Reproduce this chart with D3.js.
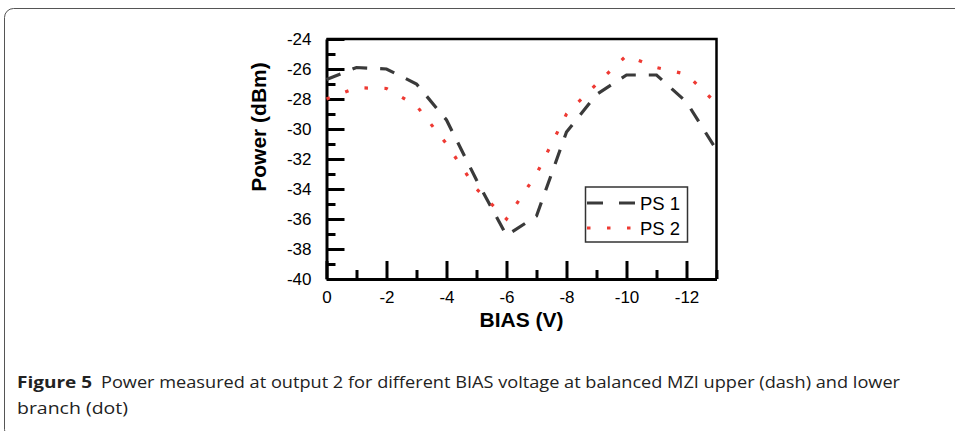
<!DOCTYPE html>
<html>
<head>
<meta charset="utf-8">
<script src="https://cdn.jsdelivr.net/npm/d3@7"></script>
<style>
  body { margin: 0; background: #fff; }
  svg { display: block; }
</style>
</head>
<body>
<script>
'use strict';

// bias voltage (V) and measured power (dBm)
const bias = [0, -1, -2, -3, -4, -5, -6, -7, -8, -9, -10, -11, -12, -13];
const ps1 = [-26.7, -25.9, -26.0, -27.0, -29.4, -33.4, -37.1, -35.8, -30.2, -27.7, -26.4, -26.4, -28.2, -31.4];
const ps2 = [-28.0, -27.25, -27.3, -28.45, -31.0, -34.0, -36.0, -33.0, -29.0, -27.0, -25.1, -25.9, -26.35, -28.3];
const seriesNames = ["PS 1", "PS 2"];
const xMajor = [0, -2, -4, -6, -8, -10, -12];
const xMinor = [-1, -3, -5, -7, -9, -11, -13];
const yMajor = [-40, -38, -36, -34, -32, -30, -28, -26, -24];
const yMinor = [-39, -37, -35, -33, -31, -29, -27, -25];
const captionBold = "Figure 5";
const captionText = "Power measured at output 2 for different BIAS voltage at balanced MZI upper (dash) and lower";
const captionText2 = "branch (dot)";

const W = 955, H = 431;
const svg = d3.select('body').append('svg')
  .attr('width', W)
  .attr('height', H);

// card frame with rounded corners
svg.append('rect')
  .attr('x', 4.5).attr('y', 8.5)
  .attr('width', 1000).attr('height', 430)
  .attr('rx', 9).attr('ry', 9)
  .attr('fill', 'none')
  .attr('stroke', '#555')
  .attr('stroke-width', 1);

const xScale = d3.scaleLinear().domain([0, -13]).range([326.5, 716.5]);
const yScale = d3.scaleLinear().domain([-40, -24]).range([279, 39]);

const font = "'Liberation Sans', Arial, sans-serif";

// top and right frame lines
svg.append('path')
  .attr('d', `M${xScale(0)},${yScale(-24)}H${xScale(-13)}V${yScale(-40)}`)
  .attr('fill', 'none')
  .attr('stroke', '#000')
  .attr('stroke-width', 2.5);

// minor ticks
svg.append('g')
  .attr('transform', `translate(0, ${yScale(-40)})`)
  .call(d3.axisBottom(xScale).tickValues(xMinor).tickSize(-9).tickFormat(''))
  .call(g => g.select('.domain').remove());
svg.append('g')
  .attr('transform', `translate(${xScale(0)}, 0)`)
  .call(d3.axisLeft(yScale).tickValues(yMinor).tickSize(-9).tickFormat(''))
  .call(g => g.select('.domain').remove());

// major ticks with labels
const fmt = d => d === 0 ? '0' : '-' + Math.abs(d);
svg.append('g')
  .attr('class', 'xaxis')
  .attr('transform', `translate(0, ${yScale(-40)})`)
  .call(d3.axisBottom(xScale).tickValues(xMajor).tickSize(-18).tickSizeOuter(0).tickPadding(12).tickFormat(fmt));
svg.append('g')
  .attr('class', 'yaxis')
  .attr('transform', `translate(${xScale(0)}, 0)`)
  .call(d3.axisLeft(yScale).tickValues(yMajor).tickSize(-18).tickSizeOuter(0).tickPadding(15).tickFormat(fmt));

svg.selectAll('.tick line').attr('stroke', '#000').attr('stroke-width', 3);
svg.selectAll('.domain').attr('stroke', '#000').attr('stroke-width', 3);
svg.selectAll('.tick text')
  .attr('font-family', font)
  .attr('font-size', 17)
  .attr('fill', '#000');

// axis titles
svg.append('text')
  .attr('x', (xScale(0) + xScale(-13)) / 2)
  .attr('y', 327)
  .attr('text-anchor', 'middle')
  .attr('font-family', font)
  .attr('font-weight', 'bold')
  .attr('font-size', 21)
  .text('BIAS (V)');
svg.append('text')
  .attr('transform', 'translate(266, 127) rotate(-90)')
  .attr('text-anchor', 'middle')
  .attr('font-family', font)
  .attr('font-weight', 'bold')
  .attr('font-size', 21)
  .text('Power (dBm)');

// curves
const rows1 = bias.map((b, i) => ({ v: b, p: ps1[i] }));
const rows2 = bias.map((b, i) => ({ v: b, p: ps2[i] }));
const line = d3.line().x(d => xScale(d.v)).y(d => yScale(d.p));

const styles = [
  { color: '#3a3a3a', dash: '15,13', cap: 'butt' },
  { color: '#ee3a33', dash: '3.5,16.5', cap: 'butt' }
];

svg.append('path')
  .datum(rows1)
  .attr('d', line)
  .attr('fill', 'none')
  .attr('stroke', styles[0].color)
  .attr('stroke-width', 3.2)
  .attr('stroke-dasharray', styles[0].dash);
svg.append('path')
  .datum(rows2)
  .attr('d', line)
  .attr('fill', 'none')
  .attr('stroke', styles[1].color)
  .attr('stroke-width', 3.2)
  .attr('stroke-dasharray', styles[1].dash);

// legend
const legend = svg.append('g');
legend.append('rect')
  .attr('x', 585.5).attr('y', 187)
  .attr('width', 102).attr('height', 55)
  .attr('fill', '#fff')
  .attr('stroke', '#333')
  .attr('stroke-width', 1.5);
seriesNames.forEach((name, i) => {
  const ly = 203 + i * 25;
  legend.append('line')
    .attr('x1', 587).attr('x2', 636)
    .attr('y1', ly).attr('y2', ly)
    .attr('stroke', styles[i].color)
    .attr('stroke-width', 3.2)
    .attr('stroke-dasharray', i === 0 ? '16,16' : '3.5,16.5')
    .attr('stroke-dashoffset', 0);
  legend.append('text')
    .attr('x', 640)
    .attr('y', ly + 7)
    .attr('font-family', font)
    .attr('font-size', 18.5)
    .text(name);
});

// caption
const capFont = "'Open Sans', 'Noto Sans', sans-serif";
svg.append('text')
  .attr('x', 17).attr('y', 388)
  .attr('font-family', capFont)
  .attr('font-weight', 'bold')
  .attr('font-size', 16.5)
  .attr('fill', '#222')
  .attr('textLength', 75)
  .attr('lengthAdjust', 'spacingAndGlyphs')
  .text(captionBold);
svg.append('text')
  .attr('x', 101).attr('y', 388)
  .attr('font-family', capFont)
  .attr('font-size', 16.5)
  .attr('fill', '#222')
  .attr('textLength', 799)
  .attr('lengthAdjust', 'spacingAndGlyphs')
  .text(captionText);
svg.append('text')
  .attr('x', 17).attr('y', 414)
  .attr('font-family', capFont)
  .attr('font-size', 16.5)
  .attr('fill', '#222')
  .attr('textLength', 111)
  .attr('lengthAdjust', 'spacingAndGlyphs')
  .text(captionText2);
</script>
</body>
</html>
